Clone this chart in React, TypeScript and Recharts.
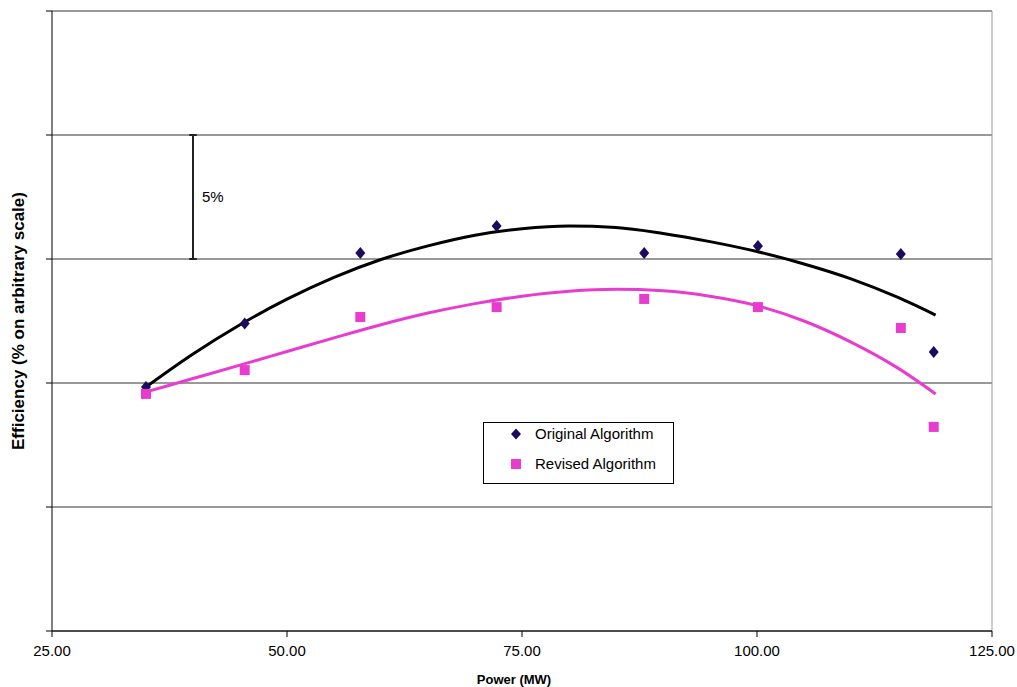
import {
  ComposedChart,
  Scatter,
  Line,
  XAxis,
  YAxis,
  CartesianGrid,
  ReferenceLine,
  Label,
} from 'recharts'

const POWER_MW = [35.0, 45.5, 57.8, 72.3, 88.0, 100.1, 115.3, 118.8]
const ORIGINAL_EFF = [9.84, 12.4, 15.24, 16.33, 15.24, 15.52, 15.2, 11.25]
const REVISED_EFF = [9.56, 10.52, 12.66, 13.06, 13.39, 13.06, 12.22, 8.23]

// trendlines, every 5 MW
const TREND_X = [35, 40, 45, 50, 55, 60, 65, 70, 75, 80, 85, 90, 95, 100, 105, 110, 115, 119]
const ORIGINAL_TREND = [9.84, 11.17, 12.35, 13.38, 14.26, 14.98, 15.53, 15.96, 16.22, 16.33, 16.27, 16.03, 15.7, 15.3, 14.8, 14.2, 13.45, 12.74]
const REVISED_TREND = [9.64, 10.18, 10.72, 11.27, 11.82, 12.35, 12.82, 13.2, 13.5, 13.7, 13.78, 13.72, 13.5, 13.12, 12.5, 11.65, 10.6, 9.56]

const X_TICKS = [25, 50, 75, 100, 125]
const Y_TICKS = [0, 5, 10, 15, 20, 25]

const NAVY = '#1c0a5e'
const PINK = '#e83ccf'
const FONT = '"Liberation Sans", Arial, sans-serif'

const originalPoints = POWER_MW.map((x, i) => ({ x, y: ORIGINAL_EFF[i] }))
const revisedPoints = POWER_MW.map((x, i) => ({ x, y: REVISED_EFF[i] }))
const originalTrend = TREND_X.map((x, i) => ({ x, y: ORIGINAL_TREND[i] }))
const revisedTrend = TREND_X.map((x, i) => ({ x, y: REVISED_TREND[i] }))

const Diamond = (props: any) => {
  const { cx, cy } = props
  return <polygon points={`${cx},${cy - 6} ${cx + 5},${cy} ${cx},${cy + 6} ${cx - 5},${cy}`} fill={NAVY} />
}

const Square = (props: any) => {
  const { cx, cy } = props
  return <rect x={cx - 5} y={cy - 5} width={10} height={10} fill={PINK} />
}

const LegendBox = () => (
  <div
    style={{
      position: 'absolute',
      left: 483,
      top: 422,
      width: 191,
      height: 62,
      border: '1px solid #000',
      background: '#fff',
      fontFamily: FONT,
      fontSize: 15,
      color: '#000',
      boxSizing: 'border-box',
    }}
  >
    <svg width={12} height={12} style={{ position: 'absolute', left: 26, top: 5 }}>
      <polygon points="6,0.5 11,6 6,11.5 1,6" fill={NAVY} />
    </svg>
    <span style={{ position: 'absolute', left: 51, top: 2 }}>Original Algorithm</span>
    <svg width={12} height={12} style={{ position: 'absolute', left: 26, top: 35 }}>
      <rect x={1} y={1} width={10} height={10} fill={PINK} />
    </svg>
    <span style={{ position: 'absolute', left: 51, top: 32 }}>Revised Algorithm</span>
  </div>
)

export default function App() {
  return (
    <div style={{ position: 'absolute', left: 0, top: 0, width: 1017, height: 687, background: '#fff' }}>
      <ComposedChart width={1017} height={687} margin={{ top: 11, right: 25, bottom: 0, left: 0 }}>
        <CartesianGrid horizontal vertical={false} stroke="#333" strokeOpacity={1} />
        <XAxis
          type="number"
          dataKey="x"
          domain={[25, 125]}
          ticks={X_TICKS}
          allowDataOverflow
          height={56}
          stroke="#000"
          tickSize={6}
          tickMargin={8}
          tickFormatter={(v: number) => v.toFixed(2)}
          tick={{ fontSize: 15, fill: '#000', fontFamily: FONT }}
        >
          <Label
            value="Power (MW)"
            position="insideBottom"
            offset={3}
            dx={-8}
            style={{ fontSize: 13, fontWeight: 'bold', fill: '#000', fontFamily: FONT }}
          />
        </XAxis>
        <YAxis
          type="number"
          dataKey="y"
          domain={[0, 25]}
          ticks={Y_TICKS}
          width={52}
          stroke="#000"
          tickSize={6}
          tickFormatter={() => ''}
        >
          <Label
            value="Efficiency (% on arbitrary scale)"
            angle={-90}
            position="insideLeft"
            offset={18}
            style={{ textAnchor: 'middle', fontSize: 17, fontWeight: 'bold', fill: '#000', fontFamily: FONT }}
          />
        </YAxis>
        <ReferenceLine y={25} stroke="#999" />
        <ReferenceLine x={125} stroke="#999" />
        <ReferenceLine segment={[{ x: 40, y: 15 }, { x: 40, y: 20 }]} stroke="#222" strokeWidth={2}>
          <Label value="5%" position="right" dx={4} style={{ fontSize: 15, fill: '#000', fontFamily: FONT }} />
        </ReferenceLine>
        <ReferenceLine segment={[{ x: 39.6, y: 20 }, { x: 40.4, y: 20 }]} stroke="#222" strokeWidth={2} />
        <ReferenceLine segment={[{ x: 39.6, y: 15 }, { x: 40.4, y: 15 }]} stroke="#222" strokeWidth={2} />
        <Line
          data={originalTrend}
          dataKey="y"
          type="monotone"
          stroke="#000"
          strokeWidth={3}
          dot={false}
          activeDot={false}
          isAnimationActive={false}
        />
        <Line
          data={revisedTrend}
          dataKey="y"
          type="monotone"
          stroke={PINK}
          strokeWidth={3}
          dot={false}
          activeDot={false}
          isAnimationActive={false}
        />
        <Scatter name="Original Algorithm" data={originalPoints} shape={<Diamond />} isAnimationActive={false} />
        <Scatter name="Revised Algorithm" data={revisedPoints} shape={<Square />} isAnimationActive={false} />
      </ComposedChart>
      <LegendBox />
    </div>
  )
}
